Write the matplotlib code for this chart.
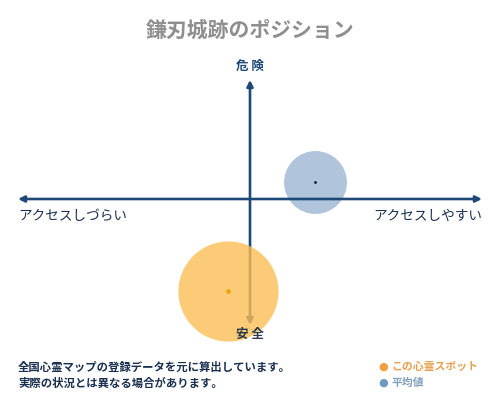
import matplotlib
matplotlib.use("Agg")
import matplotlib.pyplot as plt

plt.rcParams['font.family'] = ['Noto Sans CJK JP', 'DejaVu Sans']

title = "鎌刃城跡のポジション"
top_label, bottom_label = "危 険", "安 全"
left_label, right_label = "アクセスしづらい", "アクセスしやすい"
notes = ["全国心霊マップの登録データを元に算出しています。",
         "実際の状況とは異なる場合があります。"]
legend_names = ["この心霊スポット", "平均値"]

# positions on the access (x) / danger (y) plane, range -1..1
spot_x, spot_y = [-0.095], [-0.73]
avg_x, avg_y = [0.28], [0.135]

navy = "#1d4877"
orange = "#fbbf55"
blue = "#9db6d4"

fig = plt.figure(figsize=(5, 4), dpi=100)
ax = fig.add_axes([0, 0, 1, 1])
ax.set_xlim(-250 / 232, 250 / 232)
ax.set_ylim(-201 / 126, 199 / 126)
ax.axis("off")

# average bubble first, axes drawn over it
ax.scatter(avg_x, avg_y, s=2050, color=blue, alpha=0.8, lw=0, zorder=1)

ax.annotate("", xy=(-1, 0), xytext=(1, 0),
            arrowprops=dict(arrowstyle="<|-|>", color=navy, lw=1.9,
                            mutation_scale=9, shrinkA=0, shrinkB=0), zorder=2)
ax.annotate("", xy=(0, 0.945), xytext=(0, -1),
            arrowprops=dict(arrowstyle="<|-|>", color=navy, lw=1.9,
                            mutation_scale=9, shrinkA=0, shrinkB=0), zorder=2)

ax.scatter(avg_x, avg_y, s=1.2, color="#1a2a3a", zorder=4)

# this spot bubble over the vertical arrow
ax.scatter(spot_x, spot_y, s=5200, color=orange, alpha=0.8, lw=0, zorder=3)
ax.scatter(spot_x, spot_y, s=4, color="#f0a000", marker="D", zorder=4)

fig.text(0.5, 1 - 30 / 400, title, ha="center", va="center",
         fontsize=15, color="#8f8f8f", fontweight="bold")
fig.text(0.5, 1 - 66 / 400, top_label, ha="center", va="center",
         fontsize=9, color=navy, fontweight="bold")
fig.text(0.5, 1 - 334 / 400, bottom_label, ha="center", va="center",
         fontsize=9, color="#2a3a4a", fontweight="bold", zorder=5)
fig.text(18 / 500, 1 - 216 / 400, left_label, ha="left", va="center",
         fontsize=9.8, color="#1a3050")
fig.text(482 / 500, 1 - 216 / 400, right_label, ha="right", va="center",
         fontsize=9.8, color="#1a3050")

for i, line in enumerate(notes):
    fig.text(18 / 500, 1 - (367 + 16 * i) / 400, line, ha="left", va="center",
             fontsize=8.2, color="#1a3050", fontweight="bold")

legend_colors = ["#f0a040", "#6f9ac0"]
text_colors = ["#e8a050", "#7f9fbf"]
for i, name in enumerate(legend_names):
    y = 1 - (367 + 16 * i) / 400
    fig.text(383 / 500, y, "●", ha="center", va="center",
             fontsize=8, color=legend_colors[i], family="DejaVu Sans")
    fig.text(391 / 500, y, name, ha="left", va="center",
             fontsize=7.8, color=text_colors[i], fontweight="bold")

fig.savefig("out.png", dpi=100, facecolor="white")
